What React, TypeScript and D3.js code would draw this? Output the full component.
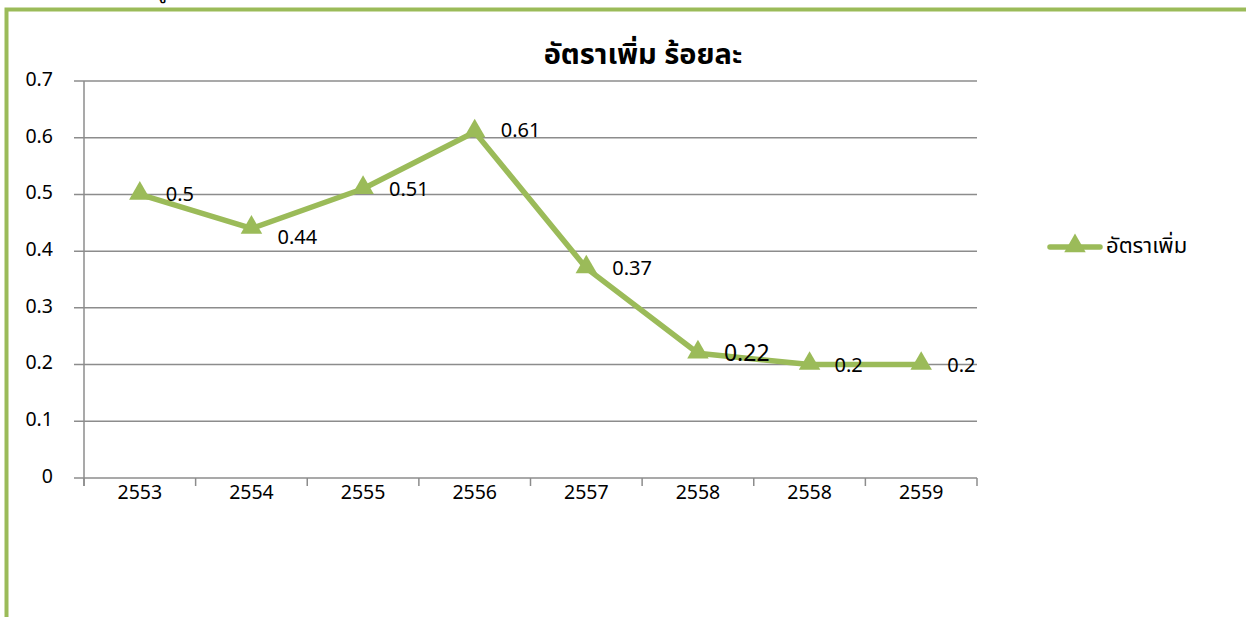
import React from "react";
import * as d3 from "d3";

const categories = ["2553", "2554", "2555", "2556", "2557", "2558", "2558", "2559"];
const values = [0.5, 0.44, 0.51, 0.61, 0.37, 0.22, 0.2, 0.2];
const labelTexts = ["0.5", "0.44", "0.51", "0.61", "0.37", "0.22", "0.2", "0.2"];
const yTicks = [0, 0.1, 0.2, 0.3, 0.4, 0.5, 0.6, 0.7];
const yTickLabels = ["0", "0.1", "0.2", "0.3", "0.4", "0.5", "0.6", "0.7"];
const seriesName = "อัตราเพิ่ม";
const title = "อัตราเพิ่ม ร้อยละ";

const W = 1246;
const H = 617;
const GREEN = "#9BBB59";
const GRID = "#8c8c8c";
const FONT = "'Noto Sans Thai', 'Noto Sans', 'DejaVu Sans', sans-serif";

export default function App() {
  const left = 84, right = 977, top = 81, bottom = 478;
  const x = d3.scaleBand<number>().domain(d3.range(categories.length)).range([left, right]).padding(0);
  const y = d3.scaleLinear().domain([0, 0.7]).range([bottom, top]);
  const cx = (i: number) => (x(i) as number) + x.bandwidth() / 2;

  const line = d3.line<number>().x((_, i) => cx(i)).y((d) => y(d));
  const tri = d3.symbol().type(d3.symbolTriangle).size(200)();

  const labelDy = (i: number) => (i === 1 ? 9 : i === 3 ? -2 : 0);
  const labelSize = (i: number) => (i === 5 ? 23 : 20);
  const labelDx = (i: number) => (i === 6 ? 25 : 26);

  const ticksX = d3.range(categories.length + 1).map((i) => left + i * x.bandwidth());

  return (
    <svg width={W} height={H} style={{ position: "absolute", left: 0, top: 0, background: "#fff" }} fontFamily={FONT}>
      <rect x={0} y={0} width={W} height={H} fill="#fff" />
      {/* frame */}
      <rect x={6.5} y={9.5} width={W + 20} height={H + 20} fill="none" stroke={GREEN} strokeWidth={4} />
      <text x={157} y={-2} fontSize={20} fill="#000">ฐู</text>

      <text x={643} y={64} textAnchor="middle" fontSize={29} fontWeight="bold" fill="#000">{title}</text>

      {/* gridlines */}
      {yTicks.map((t) => (
        <line key={"g" + t} x1={left - 10} x2={right} y1={y(t)} y2={y(t)} stroke={GRID} strokeWidth={1.5} />
      ))}
      {/* y axis */}
      <line x1={left} x2={left} y1={top} y2={bottom + 8} stroke={GRID} strokeWidth={1.5} />
      {ticksX.map((tx, i) => (
        <line key={"t" + i} x1={tx} x2={tx} y1={bottom} y2={bottom + 8} stroke={GRID} strokeWidth={1.5} />
      ))}
      {yTicks.map((t, i) => (
        <text key={"yl" + t} x={53} y={y(t) - 2} dy="0.35em" textAnchor="end" fontSize={19.5} fill="#000">{yTickLabels[i]}</text>
      ))}
      {categories.map((c, i) => (
        <text key={"xl" + i} x={cx(i)} y={492} dy="0.35em" textAnchor="middle" fontSize={19.5} fill="#000">{c}</text>
      ))}

      <path d={line(values) || ""} fill="none" stroke={GREEN} strokeWidth={5.5} strokeLinejoin="round" />
      {values.map((v, i) => (
        <path key={"m" + i} d={tri || ""} transform={`translate(${cx(i)},${y(v) - 1})`} fill={GREEN} />
      ))}
      {values.map((v, i) => (
        <text key={"dl" + i} x={cx(i) + labelDx(i)} y={y(v) + labelDy(i)} dy="0.35em" fontSize={labelSize(i)} fill="#000">{labelTexts[i]}</text>
      ))}

      {/* legend */}
      <line x1={1050} x2={1100} y1={247} y2={247} stroke={GREEN} strokeWidth={5.5} strokeLinecap="round" />
      <path d={tri || ""} transform={`translate(1075,246)`} fill={GREEN} />
      <text x={1106} y={245} dy="0.35em" fontSize={22} fill="#000">{seriesName}</text>
    </svg>
  );
}
